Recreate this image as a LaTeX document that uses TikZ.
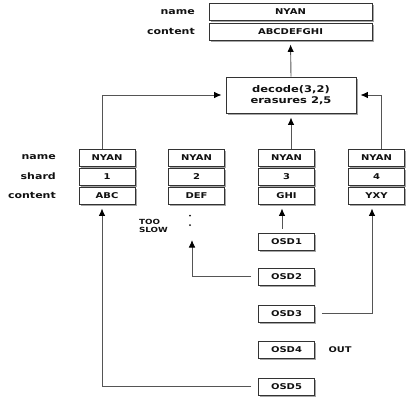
\documentclass[tikz,border=0pt]{standalone}
\usepackage{fontspec}
\setmainfont{DejaVu Sans}
\usetikzlibrary{shadows,arrows.meta,calc}
\definecolor{linec}{HTML}{555555}
\definecolor{boxc}{HTML}{333333}
\definecolor{txtc}{HTML}{111111}
\newcommand\sqz[1]{\scalebox{1}[0.8]{#1}}
\tikzset{
  cell/.style={draw=boxc, line width=0.9pt, fill=white, minimum width=56pt, minimum height=17pt, inner sep=0pt,
    font=\fontsize{10}{10}\selectfont\bfseries, text=txtc,
    drop shadow={shadow xshift=1.8pt, shadow yshift=-1.8pt, fill=black!50, opacity=0.7}},
  wide/.style={cell, minimum width=163pt},
  lbl/.style={anchor=east, inner sep=0pt, font=\fontsize{11}{11}\selectfont\bfseries, text=txtc},
  note/.style={inner sep=0pt, font=\fontsize{8.8}{8.8}\selectfont\bfseries, text=txtc},
  conn/.style={draw=linec, line width=0.9pt, -{Latex[length=7.5pt,width=6.5pt,color=black]}, shorten >=4pt},
}
\begin{document}
\begin{tikzpicture}[x=1pt,y=-1pt]
\useasboundingbox (0,0) rectangle (413,400);
% top result
\node[wide] (tname) at (290.5,12) {\sqz{NYAN}};
\node[wide] (tcont) at (290.5,31.5) {\sqz{ABCDEFGHI}};
\node[lbl] (ltname) at (195,12) {\sqz{name}};
\node[lbl] (ltcont) at (195,31.5) {\sqz{content}};
% decode
\node[cell, minimum width=130pt, minimum height=36pt, font=\fontsize{11.5}{11.5}\selectfont\bfseries] (dec) at (291,95) {\sqz{\shortstack{decode(3,2)\\erasures 2,5}}};
% shard columns
\foreach \i/\x/\s/\c in {1/107/1/ABC, 2/196.5/2/DEF, 3/286.5/3/GHI, 4/376.5/4/YXY}{
  \node[cell] (n\i) at (\x,157.5) {\sqz{NYAN}};
  \node[cell] (s\i) at (\x,176.5) {\sqz{\s}};
  \node[cell] (c\i) at (\x,195.5) {\sqz{\c}};
}
\node[lbl] (lname) at (56,157.5) {\sqz{name}};
\node[lbl] (lshard) at (56,176.5) {\sqz{shard}};
\node[lbl] (lcont) at (56,195.5) {\sqz{content}};
% OSDs
\foreach \i/\y in {1/241.5, 2/276.5, 3/313.5, 4/350, 5/386.5}{
  \node[cell] (osd\i) at (286.5,\y) {\sqz{OSD\i}};
}
\node[note, align=left] (slow) at (153.5,226) {\sqz{\shortstack[l]{TOO\\SLOW}}};
\node[note, font=\fontsize{9.8}{9.8}\selectfont\bfseries] (out) at (340,350) {\sqz{OUT}};
\fill[txtc] (190,215.5) circle (1pt) (190,225) circle (1pt);
% connectors
\draw[conn] (dec.north) -- (tcont.south);
\draw[conn] (n3.north -| dec.south) -- (dec.south);
\draw[conn] ($(n1.north)+(-5,0)$) |- (dec.west);
\draw[conn] ($(n4.north)+(4.5,0)$) |- (dec.east);
\draw[conn, shorten <=4pt] ($(osd1.north)+(-4.5,0)$) -- ($(c3.south)+(-4.5,0)$);
\coordinate (slowend) at (192,240);
\draw[conn, shorten >=0pt, shorten <=7pt] (osd2.west) -| (slowend);
\draw[conn, shorten <=7pt] (osd3.east) -| ($(c4.south)+(-4.5,0)$);
\draw[conn, shorten <=7pt] (osd5.west) -| ($(c1.south)+(-5,0)$);
\end{tikzpicture}
\end{document}
